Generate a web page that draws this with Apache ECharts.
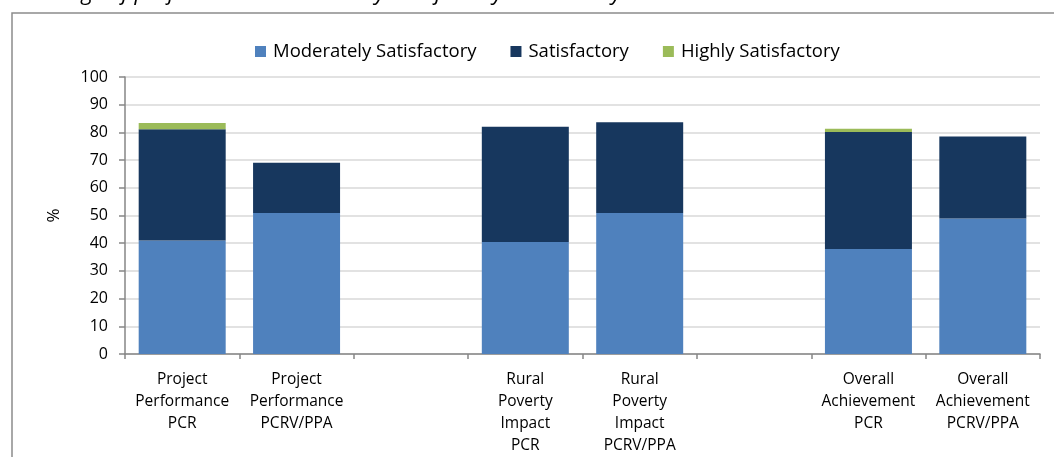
<!DOCTYPE html>
<html>
<head>
<meta charset="utf-8">
<script src="https://cdn.jsdelivr.net/npm/echarts@6/dist/echarts.min.js"></script>
<style>
html,body{margin:0;padding:0;background:#fff;}
#c{width:1054px;height:457px;}
</style>
</head>
<body>
<div id="c"></div>
<script>
var categories = [
  "Project\nPerformance\nPCR",
  "Project\nPerformance\nPCRV/PPA",
  "",
  "Rural\nPoverty\nImpact\nPCR",
  "Rural\nPoverty\nImpact\nPCRV/PPA",
  "",
  "Overall\nAchievement\nPCR",
  "Overall\nAchievement\nPCRV/PPA"
];
var moderatelySatisfactory = [41.0, 50.9, null, 40.4, 50.9, null, 37.9, 48.9];
var satisfactory = [40.1, 18.1, null, 41.6, 32.8, null, 42.2, 29.6];
var highlySatisfactory = [2.3, 0, null, 0, 0, null, 1.2, 0];
var seriesNames = ["Moderately Satisfactory", "Satisfactory", "Highly Satisfactory"];
var titleText = "Percentage of projects rated moderately satisfactory or better by criteria";
var yTicks = { min: 0, max: 100, interval: 10 };

var FONT = "'Open Sans', 'Noto Sans', sans-serif";
var chart = echarts.init(document.getElementById('c'), null, {renderer: 'canvas'});
chart.setOption({
  animation: false,
  backgroundColor: '#ffffff',
  graphic: [
    { type: 'rect', shape: { x: 12, y: 13, width: 1100, height: 500 },
      style: { fill: 'none', stroke: '#8c8c8c', lineWidth: 1.5 }, z: -1 },
    { type: 'text', x: -4, y: 5,
      style: { text: titleText, font: "italic 22px " + FONT, fill: '#000',
               textAlign: 'left', textVerticalAlign: 'bottom' } }
  ],
  legend: {
    top: 37, left: 250,
    itemWidth: 11, itemHeight: 11, itemGap: 34,
    icon: 'rect',
    textStyle: { fontFamily: FONT, fontSize: 18.5, color: '#000', padding: [0, 0, 0, 2] },
    data: seriesNames
  },
  grid: { left: 125, right: 14, top: 77, bottom: 99, containLabel: false },
  xAxis: {
    type: 'category',
    data: categories,
    axisLine: { lineStyle: { color: '#868686', width: 1.5 } },
    axisTick: { show: true, alignWithLabel: false, length: 5, lineStyle: { color: '#868686', width: 1.5 } },
    axisLabel: { interval: 0, fontFamily: FONT, fontSize: 15.5, color: '#000', lineHeight: 22, margin: 15 }
  },
  yAxis: {
    type: 'value',
    min: yTicks.min, max: yTicks.max, interval: yTicks.interval,
    name: '%', nameLocation: 'middle', nameGap: 62, nameRotate: 90,
    nameTextStyle: { fontFamily: FONT, fontSize: 17, color: '#000' },
    axisLine: { show: true, lineStyle: { color: '#868686', width: 1.5 } },
    axisTick: { show: true, length: 6, lineStyle: { color: '#868686', width: 1.5 } },
    axisLabel: { fontFamily: FONT, fontSize: 16, color: '#000', margin: 17 },
    splitLine: { show: true, lineStyle: { color: '#d9d9d9', width: 1.5 } }
  },
  series: [
    { name: seriesNames[0], type: 'bar', stack: 'a', data: moderatelySatisfactory,
      barWidth: 87, itemStyle: { color: '#4f81bd' } },
    { name: seriesNames[1], type: 'bar', stack: 'a', data: satisfactory,
      barWidth: 87, itemStyle: { color: '#17375e' } },
    { name: seriesNames[2], type: 'bar', stack: 'a', data: highlySatisfactory,
      barWidth: 87, itemStyle: { color: '#9bbb59' } }
  ]
});
</script>
</body>
</html>
